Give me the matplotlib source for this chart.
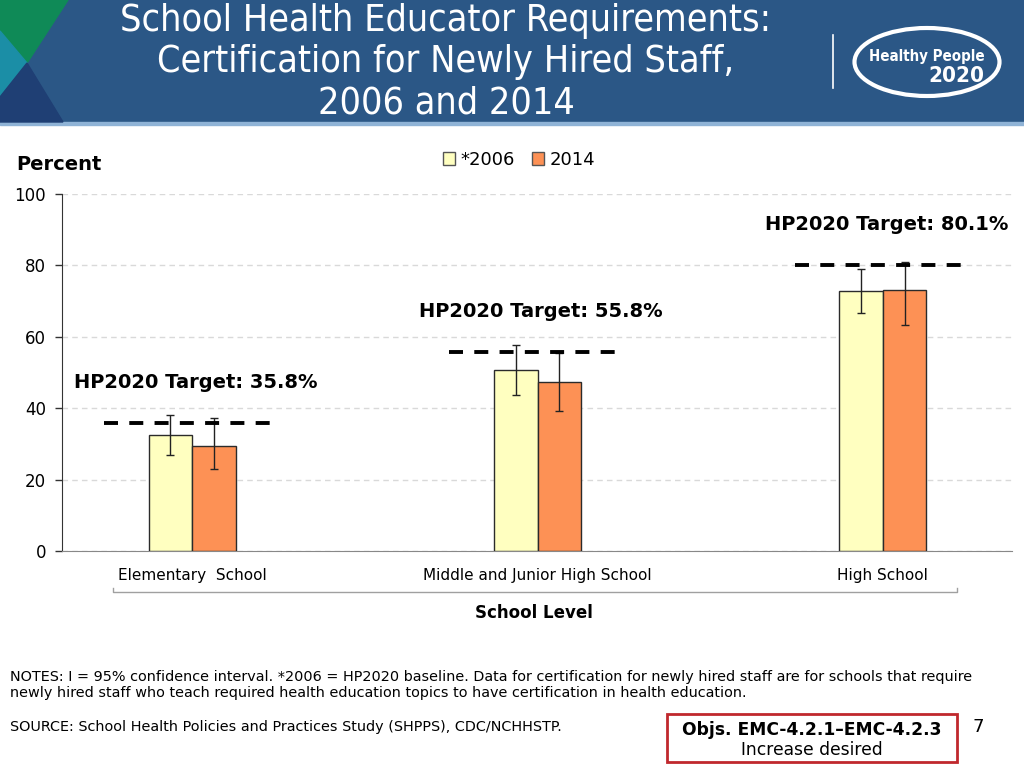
import matplotlib.pyplot as plt
import numpy as np
from matplotlib import font_manager
from matplotlib.patches import Rectangle, Polygon, Ellipse, Patch

# Data
categories = ["Elementary  School", "Middle and Junior High School", "High School"]
series_names = ["*2006", "2014"]
vals_2006 = [32.5, 50.7, 72.8]
vals_2014 = [29.4, 47.3, 73.1]
ci_2006_low = [26.9, 43.8, 66.8]
ci_2006_high = [38.1, 57.6, 79.0]
ci_2014_low = [23.0, 39.2, 63.3]
ci_2014_high = [37.3, 55.5, 81.0]
targets = [35.8, 55.8, 80.1]
yticks = [0, 20, 40, 60, 80, 100]

W, H = 1024, 768
fig = plt.figure(figsize=(W / 100, H / 100), dpi=100)

# pick a narrow face for the title if one is installed
ttf = font_manager.fontManager.ttflist
title_font = dict(family="DejaVu Sans", size=24)
narrow = dict(family="DejaVu Sans")
if any(f.name == "DejaVu Sans" and f.stretch == "condensed" for f in ttf):
    title_font = dict(family="DejaVu Sans", stretch="condensed", size=27)
    narrow = dict(family="DejaVu Sans", stretch="condensed")
elif any(f.name == "Liberation Sans Narrow" for f in ttf):
    title_font = dict(family="Liberation Sans Narrow", size=28)
    narrow = dict(family="Liberation Sans Narrow")

# overlay axes in pixel units for the slide decoration
bg = fig.add_axes([0, 0, 1, 1])
bg.set_xlim(0, W)
bg.set_ylim(H, 0)
bg.axis("off")

bg.add_patch(Rectangle((0, 0), W, 122, color="#2b5786", zorder=1))
bg.add_patch(Rectangle((0, 122), W, 3, color="#8fb3d6", zorder=1))
bg.add_patch(Polygon([(0, 0), (68, 0), (27, 63), (0, 31)], color="#0f8a57", zorder=2))
bg.add_patch(Polygon([(0, 31), (27, 63), (0, 97)], color="#1b8ea6", zorder=2))
bg.add_patch(Polygon([(27, 63), (63, 122), (0, 122), (0, 97)], color="#1f3f74", zorder=2))

title_lines = ["School Health Educator Requirements:",
               "Certification for Newly Hired Staff,",
               "2006 and 2014"]
for i, line in enumerate(title_lines):
    bg.text(446, 21 + 41 * i, line, color="white", ha="center", va="center", zorder=3, **title_font)

# logo
bg.plot([833, 833], [35, 88], color="white", lw=1.2, zorder=3)
bg.add_patch(Ellipse((927, 62), 145, 68, fill=False, ec="white", lw=3, zorder=3))
bg.text(927, 56, "Healthy People", color="white", fontsize=10.8, fontweight="bold",
        ha="center", va="center", zorder=3, **narrow)
bg.text(956, 76, "2020", color="white", fontsize=16, fontweight="bold",
        ha="center", va="center", zorder=3, **narrow)

# main chart
ax = fig.add_axes([62 / W, 1 - 551 / H, (1012 - 62) / W, (551 - 194) / H])
ax.set_facecolor("none")
x = np.arange(len(categories))
bw = 0.126
err_2006 = [np.subtract(vals_2006, ci_2006_low), np.subtract(ci_2006_high, vals_2006)]
err_2014 = [np.subtract(vals_2014, ci_2014_low), np.subtract(ci_2014_high, vals_2014)]
ax.bar(x - bw / 2, vals_2006, bw, color="#ffffc0", edgecolor="#2b2b2b", lw=1, zorder=3,
       yerr=err_2006, capsize=3, error_kw=dict(ecolor="#222222", elinewidth=1, capthick=1))
ax.bar(x + bw / 2, vals_2014, bw, color="#fd9155", edgecolor="#2b2b2b", lw=1, zorder=3,
       yerr=err_2014, capsize=3, error_kw=dict(ecolor="#222222", elinewidth=1, capthick=1))

for xi, t in zip(x, targets):
    ax.plot([xi - 0.255, xi + 0.245], [t, t], color="black", lw=2.8,
            linestyle=(0, (3.6, 2.9)), solid_capstyle="butt", dash_capstyle="butt", zorder=4)
    ax.text(xi + 0.01, t + 11.3, f"HP2020 Target: {t}%", fontsize=14, fontweight="bold",
            ha="center", va="center", zorder=5)

ax.set_xlim(-0.377, 2.374)
ax.set_ylim(0, 100)
ax.set_yticks(yticks)
ax.set_yticklabels([str(v) for v in yticks], fontsize=12)
ax.tick_params(axis="y", length=5, width=1, color="#333333", pad=6.5)
ax.set_xticks(x)
ax.set_xticklabels(categories, fontsize=11)
ax.tick_params(axis="x", length=0, pad=12)
ax.yaxis.grid(True, color="#d9d9d9", lw=1, linestyle=(0, (4, 3)))
ax.set_axisbelow(True)
for s in ["top", "right"]:
    ax.spines[s].set_visible(False)
ax.spines["left"].set_color("#333333")
ax.spines["bottom"].set_color("#888888")

# bracket under the category labels and axis title
bg.plot([113, 113, 957, 957], [588, 592, 592, 588], color="#a0a0a0", lw=1)
bg.text(534, 613, "School Level", fontsize=12, fontweight="bold", ha="center", va="center")
bg.text(16, 165, "Percent", fontsize=14, fontweight="bold", ha="left", va="center")

handles = [Patch(facecolor="#ffffc0", edgecolor="#555555"),
           Patch(facecolor="#fd9155", edgecolor="#555555")]
fig.legend(handles, series_names, loc="center", bbox_to_anchor=(519 / W, 1 - 160 / H),
           ncol=2, frameon=False, fontsize=13, handlelength=0.7, handleheight=0.7,
           handletextpad=0.3, columnspacing=0.9)

# notes and source
notes = ("NOTES: I = 95% confidence interval. *2006 = HP2020 baseline. Data for certification for newly hired staff are for schools that require\n"
         "newly hired staff who teach required health education topics to have certification in health education.")
bg.text(10, 685, notes, fontsize=10.4, ha="left", va="center", linespacing=1.15)
bg.text(10, 727, "SOURCE: School Health Policies and Practices Study (SHPPS), CDC/NCHHSTP.",
        fontsize=10.4, ha="left", va="center")

bg.add_patch(Rectangle((667, 714), 290, 48, fill=False, ec="#c0282d", lw=2))
bg.text(812, 730, "Objs. EMC-4.2.1\u2013EMC-4.2.3", fontsize=12.3, fontweight="bold",
        ha="center", va="center")
bg.text(812, 750, "Increase desired", fontsize=12.3, ha="center", va="center")
bg.text(978, 727, "7", fontsize=13, ha="center", va="center")

fig.savefig("out.png", dpi=100)
